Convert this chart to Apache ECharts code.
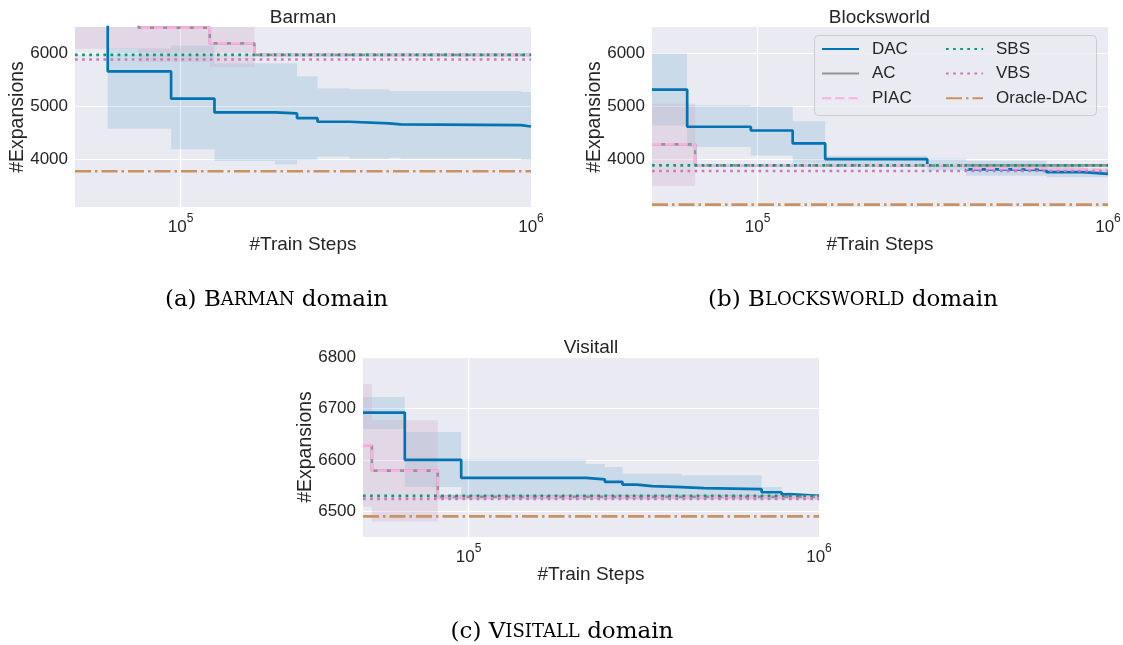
<!DOCTYPE html>
<html>
<head>
<meta charset="utf-8">
<script src="https://cdn.jsdelivr.net/npm/echarts@6/dist/echarts.min.js"></script>
<style>
  html, body { margin: 0; padding: 0; background: #ffffff; }
  #main { width: 1123px; height: 645px; }
</style>
</head>
<body>
<div id="main"></div>
<script>
// Barman: step points (train steps) where the curves change
var barmanX = [50000, 62000, 94000, 125000, 186000, 215000, 246000, 303000, 394000, 425000, 936000, 1000000];
var barmanDac = [6900, 5660, 5147, 4886, 4867, 4778, 4710, 4678, 4659, 4646, 4621, 4621];
var barmanDacLo = [6600, 4577, 4190, 3970, 3905, 3989, 4051, 4013, 4032, 4013, 3989, 3989];
var barmanDacHi = [7600, 6100, 6150, 5816, 5816, 5569, 5342, 5323, 5292, 5292, 5273, 5273];
var barmanPiacX = [50000, 75900, 121200, 162500, 1000000];
var barmanPiac = [7000, 6490, 6190, 5973, 5973];
var barmanAc = [7000, 6490, 6190, 5973, 5973];
var barmanPiacLo = [6090, 5840, 5750, 5973, 5973];
var barmanPiacHi = [7500, 7000, 6700, 5973, 5973];
var barmanSbs = 5973, barmanVbs = 5886, barmanOracle = 3775;

// Blocksworld
var bwX = [50000, 63000, 95700, 126000, 156000, 305000, 394000, 520000, 667000, 848000, 1000000];
var bwDac = [5316, 4616, 4545, 4300, 4006, 3885, 3810, 3800, 3757, 3727, 3727];
var bwDacLo = [4640, 4235, 4075, 3920, 3900, 3790, 3690, 3690, 3660, 3660, 3660];
var bwDacHi = [6000, 5020, 5000, 4720, 4070, 4010, 3975, 3975, 3900, 3800, 3800];
var bwPiacX = [50000, 66400, 394000, 667000, 1000000];
var bwPiac = [4283, 3885, 3830, 3800, 3800];
var bwAc = [4283, 3885, 3885, 3885, 3885];
var bwPiacLo = [3500, 3860, 3790, 3770, 3770];
var bwPiacHi = [5050, 3910, 3870, 3830, 3830];
var bwSbs = 3885, bwVbs = 3780, bwOracle = 3145;

// Visitall
var viX = [50000, 65800, 95300, 216000, 245000, 275000, 302000, 334000, 405000, 470000, 686000, 782000, 841000, 1000000];
var viDac = [6692, 6600, 6565, 6562, 6557, 6552, 6549, 6547, 6545, 6543, 6537, 6533, 6530, 6530];
var viDacLo = [6660, 6547, 6527, 6527, 6527, 6527, 6527, 6527, 6527, 6527, 6526, 6526, 6526, 6526];
var viDacHi = [6722, 6654, 6600, 6592, 6586, 6573, 6573, 6573, 6570, 6570, 6547, 6537, 6532, 6532];
var viPiacX = [50000, 53000, 81700, 1000000];
var viPiac = [6628, 6579, 6528, 6528];
var viAc = [6628, 6579, 6528, 6528];
var viPiacLo = [6509, 6480, 6522, 6522];
var viPiacHi = [6747, 6677, 6532, 6532];
var viSbs = 6530, viVbs = 6524, viOracle = 6490;

// axes
var bigYTicks = [4000, 5000, 6000];
var viYTicks = [6500, 6600, 6700, 6800];
var bigYRange = [3100, 6500];
var viYRange = [6450, 6800];

var SANS = '"Liberation Sans", Arial, sans-serif';
var SERIF = '"DejaVu Serif", serif';
var TEXT = '#262626';
var C = { dac: '#0173B2', ac: '#949494', piac: '#FBAFE4', sbs: '#029E73', vbs: '#CC78BC', oracle: '#CA9161' };
var DASHED = [9.25, 4], DOTTED = [2.7, 4.4], DASHDOT = [16, 4, 2.5, 4];

var chart = echarts.init(document.getElementById('main'), null, { renderer: 'canvas' });

function zip(xs, ys) {
    return xs.map(function (x, i) { return [x, ys[i]]; });
}

function grid(left, top) {
    return {
        left: left, top: top, width: 456, height: 180,
        show: true, backgroundColor: '#EAEAF2', borderWidth: 0,
        containLabel: false, outerBoundsMode: 'none'
    };
}

function xAxis(gi, xs) {
    return {
        type: 'log', logBase: 10, gridIndex: gi,
        min: xs[0], max: xs[xs.length - 1],
        axisLine: { show: false }, axisTick: { show: false },
        minorTick: { show: false }, minorSplitLine: { show: false },
        splitLine: { show: true, showMinLine: false, showMaxLine: false, lineStyle: { color: '#ffffff', width: 1.2 } },
        axisLabel: {
            margin: 6, color: TEXT, hideOverlap: false,
            formatter: function (v) {
                var e = Math.log10(v);
                if (Math.abs(e - Math.round(e)) > 1e-6) return '';
                return '{b|10}{s|' + Math.round(e) + '}';
            },
            rich: {
                b: { fontSize: 17, fontFamily: SANS, color: TEXT, lineHeight: 23, verticalAlign: 'bottom' },
                s: { fontSize: 12, fontFamily: SANS, color: TEXT, lineHeight: 9, verticalAlign: 'top' }
            }
        },
        name: '#Train Steps', nameLocation: 'middle', nameGap: 28, nameMoveOverlap: false,
        nameTextStyle: { fontSize: 19, fontFamily: SANS, color: TEXT }
    };
}

function yAxis(gi, range, ticks) {
    return {
        type: 'value', gridIndex: gi, min: range[0], max: range[1],
        axisLine: { show: false },
        axisTick: { show: false, customValues: ticks },
        splitLine: { show: true, lineStyle: { color: '#ffffff', width: 1.2 } },
        axisLabel: {
            customValues: ticks, margin: 7, fontSize: 17, fontFamily: SANS, color: TEXT,
            formatter: function (v) { return String(v); }
        },
        name: '#Expansions', nameLocation: 'middle', nameGap: 47, nameRotate: 90, nameMoveOverlap: false,
        nameTextStyle: { fontSize: 19.5, fontFamily: SANS, color: TEXT }
    };
}

// shaded step band drawn as one polygon through the axis scales
function band(gi, xs, lo, hi, color) {
    return {
        type: 'custom', xAxisIndex: gi, yAxisIndex: gi, silent: true, z: 1,
        encode: { x: 0, y: [1, 2] },
        data: xs.map(function (x, i) { return [x, lo[i], hi[i]]; }),
        renderItem: function (params, api) {
            if (params.dataIndexInside !== 0) return null;
            var n = params.dataInsideLength, top = [], bot = [];
            for (var i = 0; i < n - 1; i++) {
                var x0 = api.value(0, i), x1 = api.value(0, i + 1);
                top.push(api.coord([x0, api.value(2, i)]), api.coord([x1, api.value(2, i)]));
                bot.push(api.coord([x0, api.value(1, i)]), api.coord([x1, api.value(1, i)]));
            }
            var cs = params.coordSys;
            return {
                type: 'polygon',
                shape: { points: top.concat(bot.reverse()) },
                style: { fill: color, stroke: null },
                clipPath: { type: 'rect', shape: { x: cs.x, y: cs.y, width: cs.width, height: cs.height } }
            };
        }
    };
}

function line(gi, name, xs, ys, color, type, z, step) {
    return {
        type: 'line', name: name, xAxisIndex: gi, yAxisIndex: gi,
        data: zip(xs, ys), step: step ? 'end' : false, symbol: 'none',
        silent: true, z: z, clip: true,
        itemStyle: { color: color },
        lineStyle: { color: color, width: 2.7, type: type, cap: 'butt' },
        emphasis: { disabled: true }
    };
}

function hline(gi, name, xs, v, color, type, z) {
    return line(gi, name, [xs[0], xs[xs.length - 1]], [v, v], color, type, z, false);
}

function panel(gi, d) {
    return [
        band(gi, d.x, d.dacLo, d.dacHi, 'rgba(1,115,178,0.13)'),
        band(gi, d.px, d.pLo, d.pHi, 'rgba(148,148,148,0.12)'),
        band(gi, d.px, d.pLo, d.pHi, 'rgba(251,175,228,0.14)'),
        line(gi, 'DAC', d.x, d.dac, C.dac, 'solid', 3, true),
        line(gi, 'AC', d.px, d.ac, C.ac, 'solid', 4, true),
        line(gi, 'PIAC', d.px, d.piac, C.piac, DASHED, 5, true),
        hline(gi, 'SBS', d.x, d.sbs, C.sbs, DOTTED, 6),
        hline(gi, 'VBS', d.x, d.vbs, C.vbs, DOTTED, 7),
        hline(gi, 'Oracle-DAC', d.x, d.oracle, C.oracle, DASHDOT, 8)
    ];
}

var series = [].concat(
    panel(0, { x: barmanX, dac: barmanDac, dacLo: barmanDacLo, dacHi: barmanDacHi, px: barmanPiacX,
        piac: barmanPiac, ac: barmanAc, pLo: barmanPiacLo, pHi: barmanPiacHi,
        sbs: barmanSbs, vbs: barmanVbs, oracle: barmanOracle }),
    panel(1, { x: bwX, dac: bwDac, dacLo: bwDacLo, dacHi: bwDacHi, px: bwPiacX,
        piac: bwPiac, ac: bwAc, pLo: bwPiacLo, pHi: bwPiacHi,
        sbs: bwSbs, vbs: bwVbs, oracle: bwOracle }),
    panel(2, { x: viX, dac: viDac, dacLo: viDacLo, dacHi: viDacHi, px: viPiacX,
        piac: viPiac, ac: viAc, pLo: viPiacLo, pHi: viPiacHi,
        sbs: viSbs, vbs: viVbs, oracle: viOracle })
);

function legend(names, left) {
    return {
        data: names, orient: 'vertical', left: left, top: 40.5, padding: 0,
        itemGap: 7.6, itemWidth: 37, itemHeight: 14, selectedMode: false,
        itemStyle: { color: 'rgba(0,0,0,0)', borderWidth: 0, opacity: 0 },
        textStyle: { fontSize: 17, fontFamily: SANS, color: TEXT, padding: [0, 0, 0, 8] }
    };
}

function label(x, y, text) {
    return {
        type: 'text', x: x, y: y, z: 10,
        style: { text: text, fontSize: 19, fontFamily: SANS, fill: TEXT, align: 'center', verticalAlign: 'middle' }
    };
}

function caption(x, y, pre, cap) {
    return {
        type: 'text', x: x, y: y, z: 10,
        style: {
            text: '{n|' + pre + '}{n|' + cap.charAt(0) + '}{s|' + cap.slice(1) + '}{n| domain}',
            align: 'center', verticalAlign: 'middle',
            rich: {
                n: { fontSize: 23, fontFamily: SERIF, fill: '#000000' },
                s: { fontSize: 18, fontFamily: SERIF, fill: '#000000' }
            }
        }
    };
}

chart.setOption({
    animation: false,
    backgroundColor: '#ffffff',
    grid: [grid(75, 27), grid(652, 27), grid(363, 357)],
    xAxis: [xAxis(0, barmanX), xAxis(1, bwX), xAxis(2, viX)],
    yAxis: [yAxis(0, bigYRange, bigYTicks), yAxis(1, bigYRange, bigYTicks), yAxis(2, viYRange, viYTicks)],
    legend: [legend(['DAC', 'AC', 'PIAC'], 821), legend(['SBS', 'VBS', 'Oracle-DAC'], 945)],
    graphic: {
        elements: [
            {
                type: 'rect', z: 3, silent: true,
                shape: { x: 814.5, y: 35.5, width: 282, height: 80, r: 4 },
                style: { fill: 'rgba(234,234,242,0.8)', stroke: '#cccccc', lineWidth: 1 }
            },
            label(303, 17.5, 'Barman'),
            label(879.5, 17.5, 'Blocksworld'),
            label(591, 348, 'Visitall'),
            caption(276.5, 300, '(a) ', 'BARMAN'),
            caption(853, 300, '(b) ', 'BLOCKSWORLD'),
            caption(562, 632, '(c) ', 'VISITALL')
        ]
    },
    series: series
});
</script>
</body>
</html>
